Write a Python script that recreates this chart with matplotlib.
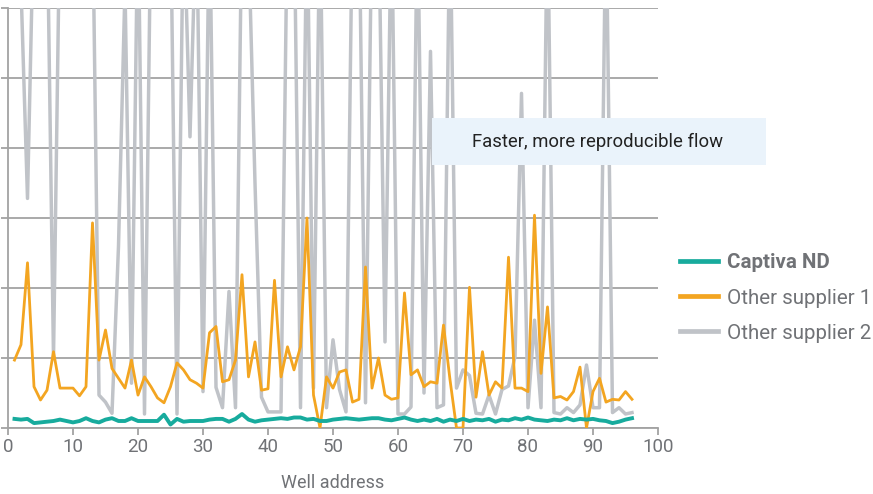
import matplotlib
matplotlib.use("Agg")
import matplotlib.pyplot as plt
from matplotlib.patches import Rectangle
import numpy as np

plt.rcParams['font.family'] = ['Roboto', 'DejaVu Sans']

wells = np.arange(1, 97)

captiva_nd = [
    0.13, 0.12, 0.13, 0.07, 0.08, 0.09, 0.10, 0.12, 0.10, 0.08,
    0.10, 0.14, 0.10, 0.08, 0.12, 0.14, 0.10, 0.10, 0.14, 0.10,
    0.10, 0.10, 0.10, 0.19, 0.05, 0.13, 0.09, 0.10, 0.10, 0.10,
    0.12, 0.13, 0.13, 0.09, 0.13, 0.20, 0.12, 0.09, 0.11, 0.12,
    0.13, 0.14, 0.13, 0.15, 0.15, 0.12, 0.13, 0.10, 0.10, 0.12,
    0.13, 0.14, 0.13, 0.12, 0.13, 0.14, 0.14, 0.12, 0.11, 0.13,
    0.15, 0.12, 0.10, 0.12, 0.10, 0.13, 0.09, 0.12, 0.10, 0.13,
    0.10, 0.12, 0.11, 0.13, 0.09, 0.12, 0.11, 0.14, 0.12, 0.15,
    0.12, 0.11, 0.10, 0.12, 0.11, 0.14, 0.11, 0.13, 0.12, 0.13,
    0.11, 0.10, 0.07, 0.09, 0.12, 0.14,
]

supplier_1 = [
    0.97, 1.19, 2.36, 0.59, 0.40, 0.54, 1.09, 0.57, 0.57, 0.57,
    0.46, 0.59, 2.93, 0.97, 1.40, 0.85, 0.71, 0.57, 0.97, 0.47,
    0.73, 0.59, 0.43, 0.36, 0.59, 0.93, 0.83, 0.69, 0.64, 0.57,
    1.36, 1.45, 0.66, 0.69, 0.97, 2.19, 0.73, 1.23, 0.54, 0.56,
    2.11, 0.73, 1.16, 0.83, 1.16, 3.00, 0.47, 0.00, 0.73, 0.57,
    0.80, 0.83, 0.37, 0.41, 2.30, 0.57, 1.00, 0.47, 0.41, 0.43,
    1.93, 0.76, 0.83, 0.59, 0.66, 0.64, 1.47, 0.69, 0.00, 0.00,
    2.01, 0.44, 1.09, 0.47, 0.66, 0.57, 2.44, 0.57, 0.57, 0.52,
    3.04, 0.78, 1.73, 0.43, 0.45, 0.40, 0.52, 0.87, 0.00, 0.52,
    0.71, 0.37, 0.41, 0.40, 0.52, 0.41,
]

supplier_2 = [
    7.5, 6.3, 3.28, 7.5, 7.5, 7.5, 1.00, 7.5, 7.5, 7.5,
    7.5, 7.5, 7.5, 0.47, 0.37, 0.21, 2.6, 6.3, 0.64, 7.5,
    0.20, 7.5, 7.5, 7.5, 7.5, 0.20, 7.5, 4.16, 7.5, 0.52,
    7.5, 0.58, 0.29, 1.95, 0.29, 7.5, 7.0, 3.5, 0.44, 0.23,
    0.23, 0.23, 7.5, 7.5, 0.29, 7.5, 0.57, 7.5, 0.29, 1.26,
    0.55, 0.23, 7.5, 7.5, 0.36, 7.5, 7.5, 1.23, 7.5, 0.20,
    0.20, 0.30, 7.5, 0.50, 5.38, 0.29, 0.33, 7.5, 0.57, 0.83,
    0.75, 0.21, 0.20, 0.47, 0.20, 0.55, 0.60, 1.02, 4.78, 0.29,
    1.54, 0.29, 7.5, 0.22, 0.20, 0.29, 0.22, 0.33, 0.90, 0.29,
    0.29, 7.5, 0.22, 0.29, 0.20, 0.22,
]

series_names = ['Captiva ND', 'Other supplier 1', 'Other supplier 2']
x_ticks = list(range(0, 101, 10))

teal = '#17ab9d'
orange = '#f3a521'
grey = '#c0c3c8'
grid_col = '#a3a3a3'
text_col = '#707276'

fig = plt.figure(figsize=(8.73, 4.94), dpi=100)
ax = fig.add_axes([8 / 873, 1 - 428 / 494, 650 / 873, 420 / 494])

ax.plot(wells, supplier_2, color=grey, lw=2.5, zorder=2, label=series_names[2])
ax.plot(wells, supplier_1, color=orange, lw=2.0, zorder=3, label=series_names[1])
ax.plot(wells, captiva_nd, color=teal, lw=2.8, zorder=4, label=series_names[0])

ax.set_xlim(0, 100)
ax.set_ylim(0, 6)
ax.set_xticks(x_ticks)
ax.set_yticks(range(0, 7))
ax.set_yticklabels([])
ax.grid(axis='y', color=grid_col, lw=1.3, zorder=1)
ax.set_axisbelow(True)

for side in ['top', 'right']:
    ax.spines[side].set_visible(False)
for side in ['left', 'bottom']:
    ax.spines[side].set_color(grid_col)
    ax.spines[side].set_linewidth(1.3)
ax.tick_params(axis='both', color=grid_col, width=1.3, length=5)
ax.tick_params(axis='x', labelsize=13.5, labelcolor=text_col, pad=2)

ax.set_xlabel('Well address', fontsize=13, color=text_col, labelpad=13)

# annotation box (spills past the plot area, so drawn in figure coords)
box = Rectangle((432 / 873, 1 - 165 / 494), 334 / 873, 47 / 494,
                transform=fig.transFigure, facecolor='#eaf3fb',
                edgecolor='none', zorder=10)
fig.patches.append(box)
fig.text(598 / 873, 1 - 142 / 494, 'Faster, more reproducible flow',
         ha='center', va='center', fontsize=13.3, color='#222222', zorder=11)

handles, labels = ax.get_legend_handles_labels()
leg = fig.legend(handles[::-1], labels[::-1], loc='center left',
                 bbox_to_anchor=(680 / 873, 1 - 298 / 494), frameon=False,
                 fontsize=14.8, handlelength=1.85, handletextpad=0.45,
                 labelspacing=0.78, borderpad=0, borderaxespad=0,
                 labelcolor=text_col)
for line in leg.get_lines():
    line.set_linewidth(3.4)
leg.get_texts()[0].set_fontweight('bold')

fig.savefig('out.png', dpi=100)
